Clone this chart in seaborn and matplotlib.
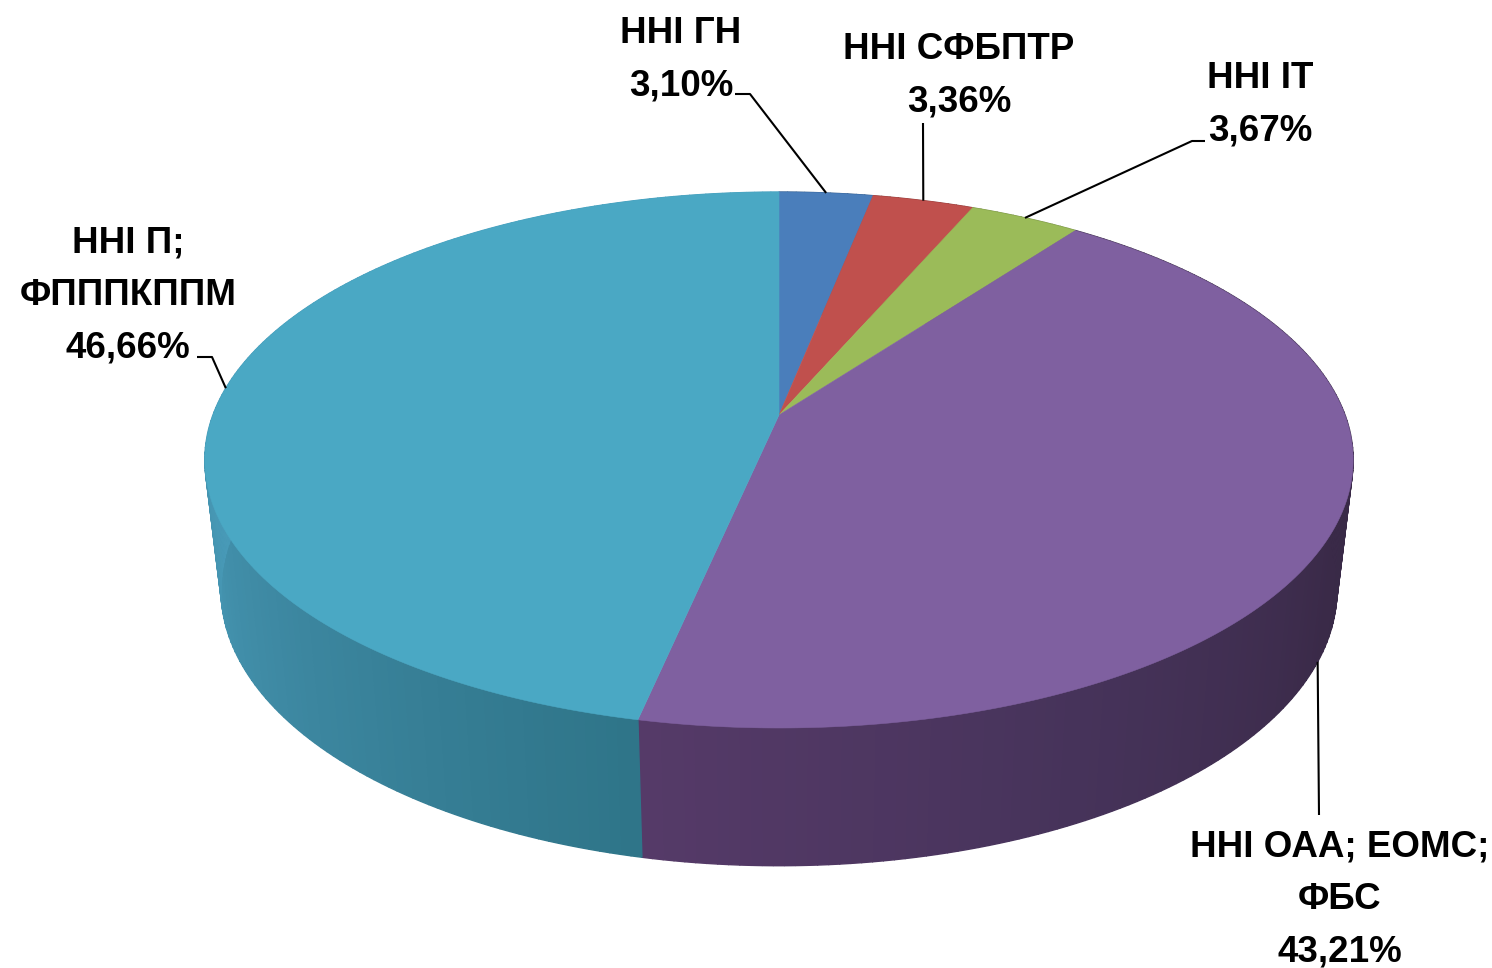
# ======================================
# 1. LIBRARIES
# ======================================
import numpy as np
import matplotlib
matplotlib.use("Agg")
import matplotlib.pyplot as plt
import seaborn as sns

# ======================================
# 2. DATA
# ======================================
labels = ["ННІ ГН", "ННІ СФБПТР", "ННІ ІТ", "ННІ ОАА; ЕОМС;\nФБС", "ННІ П;\nФПППКППМ"]
values = [3.10, 3.36, 3.67, 43.21, 46.66]
value_text = ["3,10%", "3,36%", "3,67%", "43,21%", "46,66%"]
top_colors = ["#4a7ebb", "#c0504d", "#9bbb59", "#7f60a0", "#4aa8c4"]
side_colors = [
    ["#2f5a8c", "#2f5a8c"],
    ["#8c3a38", "#8c3a38"],
    ["#718a40", "#718a40"],
    ["#33263f", "#352843", "#3a2a48", "#46335a", "#553a68"],
    ["#2f7589", "#3e89a3", "#4a9dbb", "#4aa0be", "#4aa0be"],
]

# ======================================
# 3. THEME
# ======================================
sns.set_theme(style="white")
plt.rcParams["font.family"] = ["Liberation Sans Narrow", "Liberation Sans", "DejaVu Sans"]

fig = plt.figure(figsize=(14.92, 9.68), dpi=100)
ax = fig.add_axes([0, 0, 1, 1])
ax.set_xlim(0, 1492)
ax.set_ylim(968, 0)
ax.axis("off")

# ======================================
# 4. PERSPECTIVE DISC -> PICTURE
# ======================================
k = 0.168


def disc_top(theta):
    den = 1 - k * -np.cos(theta)
    return 779 + 566 * np.sin(theta) / den, 415 + 260.4 * -np.cos(theta) / den


def disc_bottom(theta):
    den = 1 - k * -np.cos(theta)
    return 779 + 550 * np.sin(theta) / den, 543.6 + 268 * -np.cos(theta) / den


edges = np.radians(np.concatenate([[0], np.cumsum(values)]) * 3.6)

# ======================================
# 5. SIDE WALL (shaded strips)
# ======================================
for i in range(len(values)):
    n = max(int((edges[i + 1] - edges[i]) * 60), 2)
    shades = sns.blend_palette(side_colors[i], n_colors=n)
    steps = np.linspace(edges[i], edges[i + 1], n + 1)
    for j in range(n):
        th = np.linspace(steps[j], steps[j + 1], 4)
        xt, yt = disc_top(th)
        xb, yb = disc_bottom(th)
        ax.fill(np.r_[xt, xb[::-1]], np.r_[yt, yb[::-1]],
                color=shades[j], lw=1.0, zorder=2)

# ======================================
# 6. TOP FACE
# ======================================
for i in range(len(values)):
    th = np.linspace(edges[i], edges[i + 1], 300)
    x, y = disc_top(th)
    ax.fill(np.r_[779, x], np.r_[415, y], color=top_colors[i], lw=0.4, zorder=3)

# ======================================
# 7. LABELS + LEADER LINES
# ======================================
mids = (edges[:-1] + edges[1:]) / 2
anchors = [disc_top(mids[0]), disc_top(mids[1]), disc_top(mids[2]),
           disc_bottom(mids[3]), disc_top(mids[4])]
elbows = [
    [(735, 94), (750, 94)],
    [(923, 123)],
    [(1205, 141), (1192, 141)],
    [(1319, 815)],
    [(197, 357), (212, 357)],
]
text_pos = [(681, 60), (959, 76), (1260, 104.5), (1340, 899.5), (128, 295.5)]

for i in range(len(values)):
    pts = elbows[i] + [anchors[i]]
    ax.plot([p[0] for p in pts], [p[1] for p in pts], color="black", lw=1.5,
            solid_capstyle="butt", zorder=4)
    ax.text(text_pos[i][0], text_pos[i][1], labels[i] + "\n" + value_text[i],
            ha="center", va="center", ma="center", fontsize=26.5, fontweight="bold",
            linespacing=1.64, color="black", zorder=5)

plt.savefig("out.png", dpi=100)
